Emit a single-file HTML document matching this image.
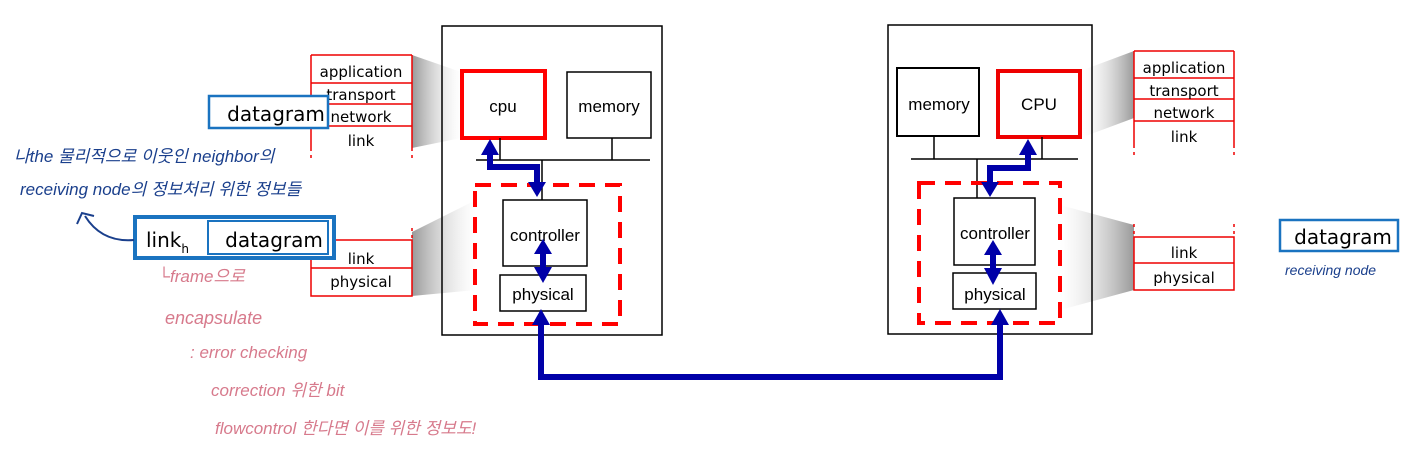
<!DOCTYPE html>
<html><head><meta charset="utf-8"><style>
html,body{margin:0;padding:0;background:#fff;}
svg{display:block;}
.s{font-family:"Liberation Sans",sans-serif;}
.g{font-family:"DejaVu Sans","Liberation Sans",sans-serif;}
.hb{font-family:"Liberation Sans","Noto Sans CJK KR",sans-serif;fill:#1a3f8c;}
.hp{font-family:"Liberation Sans","Noto Sans CJK KR",sans-serif;fill:#d77a8c;}
</style></head><body>
<svg width="1424" height="455" viewBox="0 0 1424 455" xmlns="http://www.w3.org/2000/svg">
<defs>
<linearGradient id="gl" x1="0" x2="1" y1="0" y2="0"><stop offset="0" stop-color="#999"/><stop offset="1" stop-color="#fff" stop-opacity="0.3"/></linearGradient>
<linearGradient id="gr" x1="1" x2="0" y1="0" y2="0"><stop offset="0" stop-color="#999"/><stop offset="1" stop-color="#fff" stop-opacity="0.3"/></linearGradient>
</defs>
<polygon points="412,55 461,72 461,138 412,148" fill="url(#gl)"/>
<polygon points="412,232 476,200 476,290 412,296" fill="url(#gl)"/>
<polygon points="1134,51 1083,70 1083,137 1134,118" fill="url(#gr)"/>
<polygon points="1134,225 1060,205 1060,310 1134,290" fill="url(#gr)"/>

<rect x="442" y="26" width="220" height="309" fill="none" stroke="#000" stroke-width="1.5"/>
<rect x="462" y="71" width="83" height="67" fill="none" stroke="#f00" stroke-width="4"/>
<text x="503" y="112" class="s" font-size="17" text-anchor="middle">cpu</text>
<rect x="567" y="72" width="84" height="66" fill="none" stroke="#000" stroke-width="1.5"/>
<text x="609" y="112" class="s" font-size="17" text-anchor="middle">memory</text>
<line x1="476" y1="160" x2="650" y2="160" stroke="#000" stroke-width="1.5"/>
<line x1="500" y1="138" x2="500" y2="160" stroke="#000" stroke-width="1.5"/>
<line x1="612" y1="138" x2="612" y2="160" stroke="#000" stroke-width="1.5"/>
<line x1="542" y1="160" x2="542" y2="200" stroke="#000" stroke-width="1.5"/>
<rect x="475" y="185" width="145" height="139" fill="none" stroke="#f00" stroke-width="4" stroke-dasharray="16,10"/>
<rect x="503" y="200" width="84" height="66" fill="#fff" stroke="#000" stroke-width="1.5"/>
<text x="545" y="241" class="s" font-size="17" text-anchor="middle">controller</text>
<rect x="500" y="275" width="86" height="36" fill="#fff" stroke="#000" stroke-width="1.5"/>
<text x="543" y="300" class="s" font-size="17" text-anchor="middle">physical</text>
<polyline points="490,152 490,167 537,167 537,185" fill="none" stroke="#0000a8" stroke-width="6"/>
<polygon points="481,155 499,155 490,139" fill="#0000a8"/>
<polygon points="528,182 546,182 537,197" fill="#0000a8"/>
<line x1="543" y1="250" x2="543" y2="272" stroke="#0000a8" stroke-width="6"/>
<polygon points="534,254 552,254 543,239" fill="#0000a8"/>
<polygon points="534,267 552,267 543,283" fill="#0000a8"/>

<rect x="888" y="25" width="204" height="309" fill="none" stroke="#000" stroke-width="1.5"/>
<rect x="897" y="68" width="82" height="68" fill="none" stroke="#000" stroke-width="2"/>
<text x="939" y="110" class="s" font-size="17" text-anchor="middle">memory</text>
<rect x="998" y="71" width="82" height="66" fill="none" stroke="#e00" stroke-width="4"/>
<text x="1039" y="110" class="s" font-size="17" text-anchor="middle">CPU</text>
<line x1="911" y1="159" x2="1078" y2="159" stroke="#000" stroke-width="1.5"/>
<line x1="934" y1="136" x2="934" y2="159" stroke="#000" stroke-width="1.5"/>
<line x1="1042" y1="137" x2="1042" y2="159" stroke="#000" stroke-width="1.5"/>
<line x1="977" y1="159" x2="977" y2="198" stroke="#000" stroke-width="1.5"/>
<rect x="919" y="183" width="141" height="140" fill="none" stroke="#f00" stroke-width="4" stroke-dasharray="16,10"/>
<rect x="954" y="198" width="81" height="67" fill="#fff" stroke="#000" stroke-width="1.5"/>
<text x="995" y="239" class="s" font-size="17" text-anchor="middle">controller</text>
<rect x="953" y="273" width="83" height="36" fill="#fff" stroke="#000" stroke-width="1.5"/>
<text x="995" y="300" class="s" font-size="17" text-anchor="middle">physical</text>
<polyline points="1028,152 1028,168 990,168 990,185" fill="none" stroke="#0000a8" stroke-width="6"/>
<polygon points="1019,155 1037,155 1028,139" fill="#0000a8"/>
<polygon points="981,182 999,182 990,197" fill="#0000a8"/>
<line x1="993" y1="252" x2="993" y2="273" stroke="#0000a8" stroke-width="6"/>
<polygon points="984,255 1002,255 993,240" fill="#0000a8"/>
<polygon points="984,268 1002,268 993,285" fill="#0000a8"/>

<polyline points="541,322 541,377 1000,377 1000,322" fill="none" stroke="#0000a8" stroke-width="6"/>
<polygon points="532,325 550,325 541,309" fill="#0000a8"/>
<polygon points="991,325 1009,325 1000,309" fill="#0000a8"/>

<g stroke="#e00" stroke-width="1.5" fill="none">
<line x1="311" y1="55" x2="412" y2="55"/>
<line x1="311" y1="55" x2="311" y2="148"/><line x1="412" y1="55" x2="412" y2="148"/>
<line x1="311" y1="83" x2="412" y2="83"/><line x1="311" y1="104" x2="412" y2="104"/><line x1="311" y1="126" x2="412" y2="126"/>
<line x1="311" y1="148" x2="311" y2="162" stroke-dasharray="3,4"/><line x1="412" y1="148" x2="412" y2="162" stroke-dasharray="3,4"/>
<line x1="311" y1="228" x2="311" y2="240" stroke-dasharray="3,4"/><line x1="412" y1="228" x2="412" y2="240" stroke-dasharray="3,4"/>
<rect x="311" y="240" width="101" height="56" fill="#fff"/>
<line x1="311" y1="268" x2="412" y2="268"/>
</g>
<g class="g" font-size="15" text-anchor="middle">
<text x="361" y="77">application</text><text x="361" y="100">transport</text><text x="361" y="122">network</text><text x="361" y="146">link</text>
<text x="361" y="264">link</text><text x="361" y="287">physical</text>
</g>
<rect x="209" y="96" width="119" height="32" fill="#fff" stroke="#1a73c0" stroke-width="2.5"/>
<text x="276" y="121" class="g" font-size="20" text-anchor="middle">datagram</text>
<rect x="135" y="217" width="199" height="41" fill="#fff" stroke="#1a73c0" stroke-width="4"/>
<rect x="208" y="221" width="120" height="33" fill="#fff" stroke="#1a73c0" stroke-width="2"/>
<text x="146" y="247" class="g" font-size="20">link<tspan font-size="12" dy="6">h</tspan></text>
<text x="274" y="247" class="g" font-size="20" text-anchor="middle">datagram</text>

<g stroke="#e00" stroke-width="1.5" fill="none">
<line x1="1134" y1="51" x2="1234" y2="51"/>
<line x1="1134" y1="78" x2="1234" y2="78"/><line x1="1134" y1="99" x2="1234" y2="99"/><line x1="1134" y1="121" x2="1234" y2="121"/>
<line x1="1134" y1="51" x2="1134" y2="145"/><line x1="1234" y1="51" x2="1234" y2="145"/>
<line x1="1134" y1="145" x2="1134" y2="157" stroke-dasharray="3,4"/><line x1="1234" y1="145" x2="1234" y2="157" stroke-dasharray="3,4"/>
<line x1="1134" y1="224" x2="1134" y2="236" stroke-dasharray="3,4"/><line x1="1234" y1="224" x2="1234" y2="236" stroke-dasharray="3,4"/>
<rect x="1134" y="237" width="100" height="53"/>
<line x1="1134" y1="263" x2="1234" y2="263"/>
</g>
<g class="g" font-size="15" text-anchor="middle">
<text x="1184" y="73">application</text><text x="1184" y="96">transport</text><text x="1184" y="118">network</text><text x="1184" y="142">link</text>
<text x="1184" y="258">link</text><text x="1184" y="283">physical</text>
</g>
<rect x="1280" y="220" width="118" height="31" fill="#fff" stroke="#1a73c0" stroke-width="2.5"/>
<text x="1343" y="244" class="g" font-size="20" text-anchor="middle">datagram</text>
<text x="1285" y="275" class="hb" font-size="14" font-style="italic">receiving node</text>

<text x="14" y="162" class="hb" font-size="17" font-style="italic">나the 물리적으로 이웃인 neighbor의</text>
<text x="20" y="195" class="hb" font-size="17" font-style="italic">receiving node의 정보처리 위한 정보들</text>
<path d="M134,240 C110,242 95,232 85,216" fill="none" stroke="#1a3f8c" stroke-width="2"/>
<polyline points="77,224 82,213 94,216" fill="none" stroke="#1a3f8c" stroke-width="2"/>
<text x="158" y="282" class="hp" font-size="17" font-style="italic">└frame으로</text>
<text x="165" y="324" class="hp" font-size="18" font-style="italic">encapsulate</text>
<text x="190" y="358" class="hp" font-size="17" font-style="italic">: error checking</text>
<text x="211" y="396" class="hp" font-size="17" font-style="italic">correction 위한 bit</text>
<text x="215" y="434" class="hp" font-size="17" font-style="italic">flowcontrol 한다면 이를 위한 정보도!</text>
</svg>
</body></html>
